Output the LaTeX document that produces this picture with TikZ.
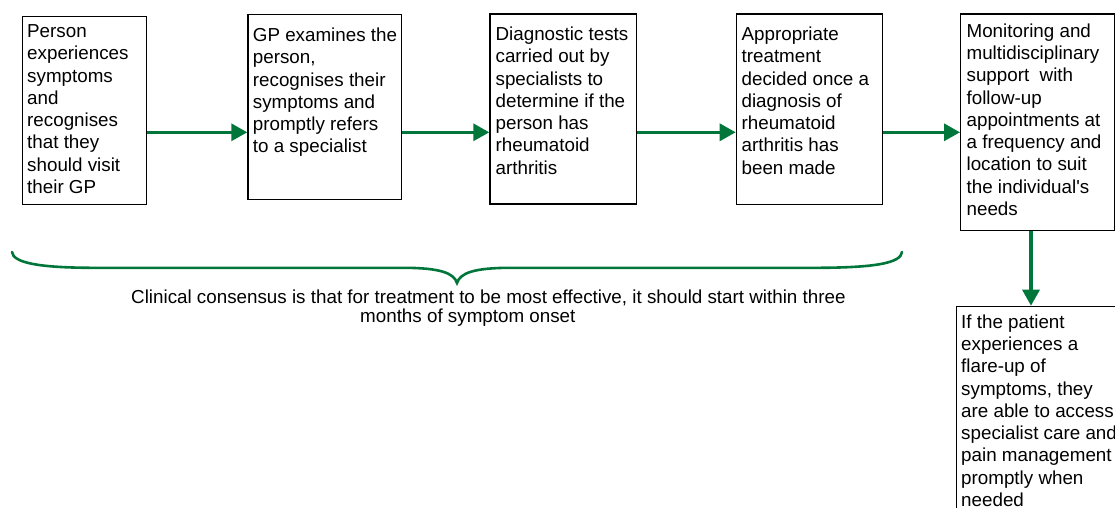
\documentclass[tikz,border=0pt]{standalone}
\usepackage{fontspec}
\setmainfont{Liberation Sans}
\usetikzlibrary{arrows.meta}
\definecolor{flowgreen}{RGB}{0,118,58}
\newcommand{\flowtext}[1]{\parbox[t]{220pt}{\fontsize{18.8}{22.25}\selectfont\raggedright #1}}
\tikzset{
  stagebox/.style={draw=black, line width=1.4pt, inner sep=0pt, anchor=north west},
  stagetext/.style={anchor=base west, inner sep=0pt},
  flow/.style={draw=flowgreen, line width=3.2pt, -{Triangle[length=16pt,width=17pt]}},
  bracestyle/.style={draw=flowgreen, line width=2.6pt, line cap=round}
}
\begin{document}
\begin{tikzpicture}[x=1pt,y=-1pt]
\useasboundingbox (0,0) rectangle (1115,507);
% boxes
\node[stagebox, minimum width=123.7pt, minimum height=188.3pt] (b1) at (22,15.7) {};
\node[stagebox, minimum width=153.7pt, minimum height=185pt] (b2) at (247.3,14) {};
\node[stagebox, minimum width=146.7pt, minimum height=190pt] (b3) at (489.3,13.3) {};
\node[stagebox, minimum width=146pt, minimum height=190.4pt] (b4) at (735.7,13.3) {};
\node[stagebox, minimum width=154pt, minimum height=216.7pt] (b5) at (960,13.3) {};
\node[stagebox, minimum width=180pt, minimum height=230pt] (b6) at (955.7,305.7) {};
% texts
\node[stagetext] (t1) at (27,37.7) {\flowtext{Person\\experiences\\symptoms\\and\\recognises\\that they\\should visit\\their GP}};
\node[stagetext] (t2) at (252.7,41.7) {\flowtext{GP examines the\\person,\\recognises their\\symptoms and\\promptly refers\\to a specialist}};
\node[stagetext] (t3) at (495.4,40.7) {\flowtext{Diagnostic tests\\carried out by\\specialists to\\determine if the\\person has\\rheumatoid\\arthritis}};
\node[stagetext] (t4) at (741.4,40.7) {\flowtext{Appropriate\\treatment\\decided once a\\diagnosis of\\rheumatoid\\arthritis has\\been made}};
\node[stagetext] (t5) at (966.4,37.3) {\flowtext{Monitoring and\\multidisciplinary\\support\ \ with\\follow-up\\appointments at\\a frequency and\\location to suit\\the individual\textquotesingle s\\needs}};
\node[stagetext] (t6) at (961,328.3) {\flowtext{If the patient\\experiences a\\flare-up of\\symptoms, they\\are able to access\\specialist care and\\pain management\\promptly when\\needed}};
% arrows
\coordinate (ay) at (0,132.3);
\coordinate (ax) at (1031,0);
\draw[flow] (b1.east |- ay) -- (b2.west |- ay);
\draw[flow] (b2.east |- ay) -- (b3.west |- ay);
\draw[flow] (b3.east |- ay) -- (b4.west |- ay);
\draw[flow] (b4.east |- ay) -- (b5.west |- ay);
\draw[flow] (b5.south -| ax) -- (b6.north -| ax);
% brace
\draw[bracestyle] (12,252) .. controls (13,263) and (40,267.5) .. (90,267.8)
  -- (405,267.8) .. controls (440,268) and (454,273) .. (457,283)
  .. controls (460,273) and (474,268) .. (509,267.8)
  -- (820,267.8) .. controls (875,267.5) and (901,263) .. (902,252);
% caption
\node[stagetext] (cap) at (131,303) {\parbox[t]{760pt}{\fontsize{18.8}{19.8}\selectfont Clinical consensus is that for treatment to be most effective, it should start within three\\\hspace*{229pt}months of symptom onset}};
\end{tikzpicture}
\end{document}
